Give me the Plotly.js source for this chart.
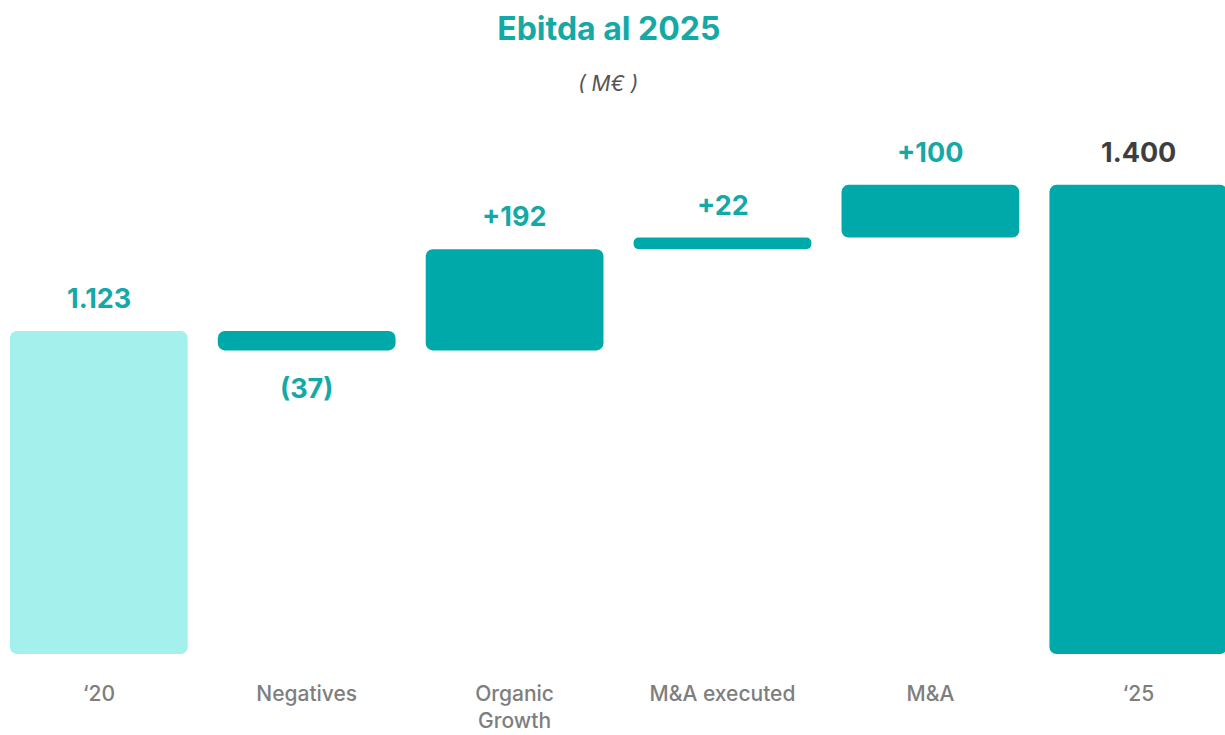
<!DOCTYPE html>
<html>
<head>
<meta charset="utf-8">
<script src="https://cdn.plot.ly/plotly-3.0.1.min.js"></script>
<style>
  html, body { margin: 0; padding: 0; background: #ffffff; }
  #chart { width: 1225px; height: 735px; }
</style>
</head>
<body>
<div id="chart"></div>
<script>
// ---- data ----
const categories = ['‘20', 'Negatives', 'Organic<br>Growth', 'M&A executed', 'M&A', '‘25'];
const values = [1123, -37, 192, 22, 100, 1400];
const kinds = ['total', 'delta', 'delta', 'delta', 'delta', 'total'];

// ---- styling ----
const AXIS_MIN = 510;   // truncated value axis, as in the original infographic
const AXIS_MAX = 1561;
const TEAL = '#00A9A9';
const LIGHT = '#A3F0EC';
const barColors = [LIGHT, TEAL, TEAL, TEAL, TEAL, TEAL];
const labelColors = ['#14A9A6', '#14A9A6', '#14A9A6', '#14A9A6', '#14A9A6', '#3E3E3E'];
const FONT = 'Inter, "Open Sans", sans-serif';

// ---- derive bar extents ----
let running = 0;
const lows = [], highs = [];
values.forEach((v, i) => {
  if (kinds[i] === 'total') {
    lows.push(AXIS_MIN); highs.push(v); running = v;
  } else {
    const s = running, e = running + v;
    lows.push(Math.min(s, e)); highs.push(Math.max(s, e)); running = e;
  }
});

function fmtTotal(v) { return String(v).replace(/\B(?=(\d{3})+(?!\d))/g, '.'); }
const labels = values.map((v, i) => kinds[i] === 'total' ? fmtTotal(v) : (v >= 0 ? '+' + v : '(' + Math.abs(v) + ')'));

const bars = {
  type: 'bar', x: categories, y: highs.map((h, i) => h - lows[i]), base: lows,
  marker: { color: barColors, cornerradius: 7, line: { width: 0 } },
  hoverinfo: 'skip', showlegend: false
};

const annotations = values.map((v, i) => {
  const neg = kinds[i] === 'delta' && v < 0;
  return {
    x: categories[i], y: neg ? lows[i] : highs[i], xref: 'x', yref: 'y',
    text: labels[i], showarrow: false,
    xanchor: 'center', yanchor: neg ? 'top' : 'bottom',
    yshift: neg ? -20 : 14,
    font: { family: FONT, size: 27, weight: 700, color: labelColors[i] }
  };
});
annotations.push({
  xref: 'paper', yref: 'paper', x: 0.4965, y: 1.029,
  xanchor: 'center', yanchor: 'middle', showarrow: false,
  text: '<i>( M€ )</i>',
  font: { family: FONT, size: 21, color: '#555555' }
});

const layout = {
  width: 1225, height: 735,
  margin: { l: 0, r: 0, t: 100, b: 81, pad: 0 },
  paper_bgcolor: '#ffffff', plot_bgcolor: '#ffffff',
  barmode: 'overlay', bargap: 0.145,
  title: {
    text: '<b>Ebitda al 2025</b>',
    x: 0.497, xanchor: 'center', xref: 'container',
    y: 0.961, yanchor: 'middle', yref: 'container',
    font: { family: FONT, size: 32, color: '#14A9A6' }
  },
  xaxis: {
    type: 'category', range: [-0.4752, 5.417],
    showgrid: false, zeroline: false, showline: false, ticks: '',
    ticklabelstandoff: 25,
    tickfont: { family: FONT, size: 21, weight: 500, color: '#7E7E7E' },
    fixedrange: true
  },
  yaxis: {
    range: [AXIS_MIN, AXIS_MAX], visible: false,
    showgrid: false, zeroline: false, fixedrange: true
  },
  annotations: annotations,
  showlegend: false
};

Plotly.newPlot('chart', [bars], layout, { displayModeBar: false, staticPlot: true });
</script>
</body>
</html>
